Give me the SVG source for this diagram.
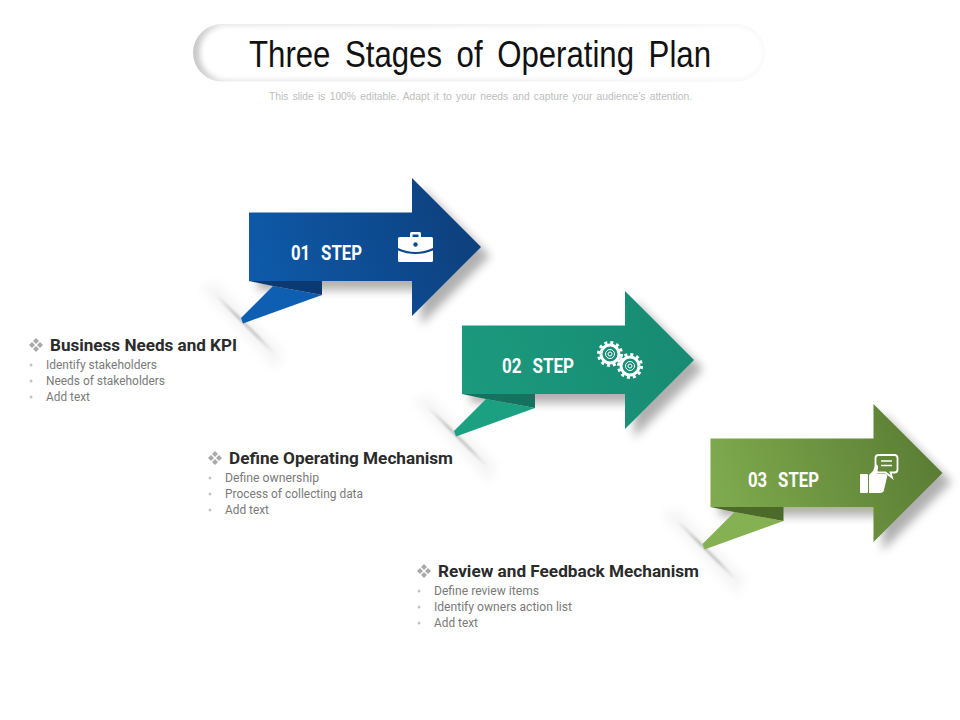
<svg xmlns="http://www.w3.org/2000/svg" width="960" height="720" viewBox="0 0 960 720">
<style>
.h{font-family:Roboto,"Liberation Sans",sans-serif;font-weight:700;font-size:17px;fill:#2b2b2b}
.i{font-family:Roboto,"Liberation Sans",sans-serif;font-size:12px;fill:#7a7a7a}
.s{font-family:Roboto,"Liberation Sans",sans-serif;font-weight:700;font-size:20px;fill:#fff;word-spacing:8px}
.d{fill:#a9a9a9}
.b{fill:#c4c4c4}
</style>
<defs>
<filter id="blur6" x="-30%" y="-30%" width="160%" height="160%"><feGaussianBlur stdDeviation="5"/></filter>
<filter id="blur2" x="-30%" y="-30%" width="160%" height="160%"><feGaussianBlur stdDeviation="1"/></filter>
<filter id="blur3" x="-10%" y="-30%" width="120%" height="160%"><feGaussianBlur stdDeviation="2.500"/></filter>
<linearGradient id="pill" x1="0" x2="1" y1="0" y2="0"><stop offset="0" stop-color="#c9c9c9"/><stop offset=".05" stop-color="#e6e6e6"/><stop offset=".5" stop-color="#ececec"/><stop offset="1" stop-color="#f6f6f6"/></linearGradient>
<linearGradient id="a1" x1="0" x2="1" y1=".6" y2=".4"><stop offset="0" stop-color="#0e5aa9"/><stop offset="1" stop-color="#0d3f7c"/></linearGradient>
<linearGradient id="a2" x1="0" x2="1" y1=".6" y2=".4"><stop offset="0" stop-color="#1b9a7e"/><stop offset="1" stop-color="#178a72"/></linearGradient>
<linearGradient id="a3" x1="0" x2="1" y1=".6" y2=".4"><stop offset="0" stop-color="#7fab4e"/><stop offset="1" stop-color="#597c33"/></linearGradient>
<linearGradient id="ln" gradientUnits="userSpaceOnUse" x1="216" y1="293" x2="277" y2="354"><stop offset="0" stop-color="#c4c4c4" stop-opacity="0"/><stop offset=".35" stop-color="#c0c0c0"/><stop offset=".7" stop-color="#c8c8c8"/><stop offset="1" stop-color="#d8d8d8" stop-opacity="0"/></linearGradient>
<path id="arrow" d="M249 212.500H412V178L481 247L412 316V281H249Z"/>
<path id="fold" d="M249 281H322V295L273 286Z"/>
<path id="tail" d="M273 286L322 295L243 323.500L241 318Z"/>
<g id="paper">
<path d="M200 288L216 282L284 352L276 370Z" fill="#ececec" opacity=".5" filter="url(#blur6)"/>
<path d="M216 293L277 354L275 356L214 295Z" fill="url(#ln)" filter="url(#blur2)"/>
</g>
<g id="diam"><path class="d" d="M0 -7L3 -4L0 -1L-3 -4Z"/><path class="d" d="M0 1L3 4L0 7L-3 4Z"/><path class="d" d="M-4 -3L-1 0L-4 3L-7 0Z"/><path class="d" d="M4 -3L7 0L4 3L1 0Z"/></g>
</defs>

<g id="title-bar">
<rect x="193" y="24" width="572" height="57.500" rx="28.700" fill="url(#pill)"/>
<rect x="200" y="26" width="564" height="53.500" rx="26.500" fill="#fff" filter="url(#blur3)"/>
<text x="249" y="67" font-family="'Liberation Sans',Arial,sans-serif" font-size="37" fill="#111" word-spacing="7" textLength="462" lengthAdjust="spacingAndGlyphs">Three Stages of Operating Plan</text>
</g>
<text id="subtitle" x="269" y="100" font-family="'Liberation Sans',Arial,sans-serif" font-size="11" fill="#bdbdbd" word-spacing="1.500" textLength="423" lengthAdjust="spacingAndGlyphs">This slide is 100% editable. Adapt it to your needs and capture your audience’s attention.</text>

<g id="connectors"></g>

<g id="step-1">
<use href="#paper"/>
<use href="#arrow" transform="translate(9,9)" fill="#6f6f6f" opacity=".55" filter="url(#blur6)"/>
<use href="#tail" fill="#0e5fb2"/>
<use href="#fold" fill="#0b3a73"/>
<use href="#arrow" fill="url(#a1)"/>
<text class="s" x="291" y="260" textLength="71" lengthAdjust="spacingAndGlyphs">01 STEP</text>
<g id="icon-briefcase" fill="#fff">
<path d="M410 237V233.500Q410 232 411.500 232H419.500Q421 232 421 233.500V237H418.500V234.500H412.500V237Z"/>
<path d="M398 238.500Q398 237 399.500 237H431.500Q433 237 433 238.500V248Q424 252 415.500 252Q407 252 398 248Z"/>
<path d="M398 250.500Q407 254 415.500 254Q424 254 433 250.500V260.500Q433 262 431.500 262H399.500Q398 262 398 260.500Z"/>
<circle cx="415.500" cy="244.500" r="2.200" fill="#0e4a8e"/>
</g>
</g>
<g id="label-1">
<use href="#diam" x="36" y="345"/>
<text class="h" x="50" y="351" textLength="187" lengthAdjust="spacingAndGlyphs">Business Needs and KPI</text>
<circle class="b" cx="31" cy="365" r="1.500"/><circle class="b" cx="31" cy="381" r="1.500"/><circle class="b" cx="31" cy="397" r="1.500"/>
<text class="i" x="46" y="369" textLength="111" lengthAdjust="spacingAndGlyphs">Identify stakeholders</text>
<text class="i" x="46" y="385" textLength="119" lengthAdjust="spacingAndGlyphs">Needs of stakeholders</text>
<text class="i" x="46" y="401" textLength="44" lengthAdjust="spacingAndGlyphs">Add text</text>
</g>

<g id="step-2">
<g transform="translate(213,113)">
<use href="#paper"/>
<use href="#arrow" transform="translate(9,9)" fill="#6f6f6f" opacity=".55" filter="url(#blur6)"/>
<use href="#tail" fill="#1ba182"/>
<use href="#fold" fill="#14725e"/>
<use href="#arrow" fill="url(#a2)"/>
</g>
<text class="s" x="502" y="373" textLength="72" lengthAdjust="spacingAndGlyphs">02 STEP</text>
<g id="icon-gears" fill="none" stroke="#fff">
<circle cx="610" cy="354" r="11.500" stroke-width="3" stroke-dasharray="3 3.020"/>
<circle cx="610" cy="354" r="9" stroke-width="3"/>
<circle cx="610" cy="354" r="4.500" stroke-width="1"/>
<circle cx="610" cy="354" r="2" stroke-width="1"/>
<circle cx="630" cy="366" r="11.500" stroke-width="3" stroke-dasharray="3 3.020"/>
<circle cx="630" cy="366" r="9" stroke-width="3"/>
<circle cx="630" cy="366" r="4.500" stroke-width="1"/>
<circle cx="630" cy="366" r="2" stroke-width="1"/>
</g>
</g>
<g id="label-2">
<use href="#diam" x="215" y="458"/>
<text class="h" x="229" y="464" textLength="224" lengthAdjust="spacingAndGlyphs">Define Operating Mechanism</text>
<circle class="b" cx="210" cy="478" r="1.500"/><circle class="b" cx="210" cy="494" r="1.500"/><circle class="b" cx="210" cy="510" r="1.500"/>
<text class="i" x="225" y="482" textLength="94" lengthAdjust="spacingAndGlyphs">Define ownership</text>
<text class="i" x="225" y="498" textLength="138" lengthAdjust="spacingAndGlyphs">Process of collecting data</text>
<text class="i" x="225" y="514" textLength="44" lengthAdjust="spacingAndGlyphs">Add text</text>
</g>

<g id="step-3">
<g transform="translate(461.500,226)">
<use href="#paper"/>
<use href="#arrow" transform="translate(9,9)" fill="#6f6f6f" opacity=".55" filter="url(#blur6)"/>
<use href="#tail" fill="#86b152"/>
<use href="#fold" fill="#4d6b28"/>
<use href="#arrow" fill="url(#a3)"/>
</g>
<text class="s" x="748" y="487" textLength="71" lengthAdjust="spacingAndGlyphs">03 STEP</text>
<g id="icon-feedback">
<path d="M878.500 455H894.500Q897.500 455 897.500 458V469.500Q897.500 472.500 894.500 472.500H890.500L892 477.500L885.500 472.500H878.500Q875.500 472.500 875.500 469.500V458Q875.500 455 878.500 455Z" fill="none" stroke="#fff" stroke-width="1.800"/>
<path d="M881 461H892M881 465.500H892" stroke="#fff" stroke-width="1.500" fill="none"/>
<rect x="860" y="474" width="8" height="19" rx="1" fill="#fff"/>
<path d="M869 475L873 471L875.500 464.500Q878 464 878 467.500L877 474H885Q888 474 887 477L884 490Q883.500 493 880 493H869Z" fill="#fff"/>
</g>
</g>
<g id="label-3">
<use href="#diam" x="424" y="571"/>
<text class="h" x="438" y="577" textLength="261" lengthAdjust="spacingAndGlyphs">Review and Feedback Mechanism</text>
<circle class="b" cx="419" cy="591" r="1.500"/><circle class="b" cx="419" cy="607" r="1.500"/><circle class="b" cx="419" cy="623" r="1.500"/>
<text class="i" x="434" y="595" textLength="105" lengthAdjust="spacingAndGlyphs">Define review items</text>
<text class="i" x="434" y="611" textLength="138" lengthAdjust="spacingAndGlyphs">Identify owners action list</text>
<text class="i" x="434" y="627" textLength="44" lengthAdjust="spacingAndGlyphs">Add text</text>
</g>
</svg>
